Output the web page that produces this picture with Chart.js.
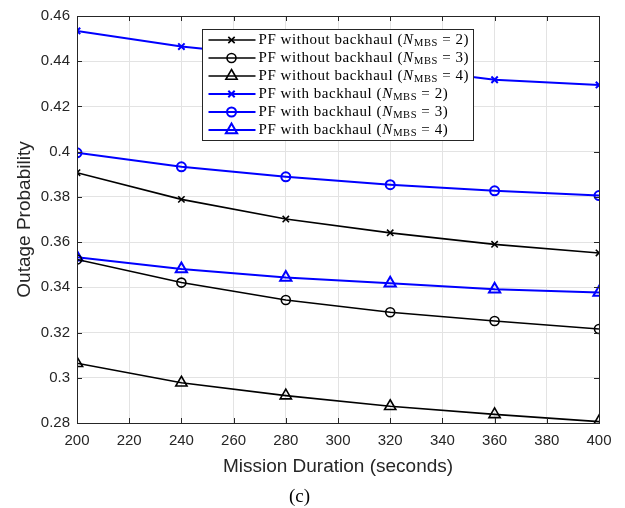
<!DOCTYPE html>
<html>
<head>
<meta charset="utf-8">
<script src="https://cdn.jsdelivr.net/npm/chart.js@4.4.0/dist/chart.umd.min.js"></script>
<style>
  html, body { margin: 0; padding: 0; background: #fff; }
  #wrap { width: 625px; height: 508px; }
</style>
</head>
<body>
<div id="wrap"><canvas id="chart"></canvas></div>
<script>
const durations = [200, 240, 280, 320, 360, 400];

const noBackhaul2 = [0.3907, 0.3789, 0.3702, 0.3641, 0.3590, 0.3552];
const noBackhaul3 = [0.3523, 0.3421, 0.3344, 0.3290, 0.3251, 0.3216];
const noBackhaul4 = [0.3064, 0.2978, 0.2921, 0.2874, 0.2838, 0.2806];
const withBackhaul2 = [0.4534, 0.4465, 0.4418, 0.4376, 0.4318, 0.4295];
const withBackhaul3 = [0.3995, 0.3933, 0.3889, 0.3854, 0.3827, 0.3806];
const withBackhaul4 = [0.3533, 0.3481, 0.3443, 0.3418, 0.3392, 0.3377];

const seriesNames = [
    'PF without backhaul',
    'PF without backhaul',
    'PF without backhaul',
    'PF with backhaul',
    'PF with backhaul',
    'PF with backhaul'
];
const mbsCounts = [2, 3, 4, 2, 3, 4];

const xTickLabels = ['200', '220', '240', '260', '280', '300', '320', '340', '360', '380', '400'];
const yTickLabels = ['0.28', '0.3', '0.32', '0.34', '0.36', '0.38', '0.4', '0.42', '0.44', '0.46'];

const axisColor = '#262626';
const sansFont = "'Liberation Sans', Arial, sans-serif";
const serifFont = "'Liberation Serif', 'Times New Roman', serif";

function makeSet(values, color, style, width) {
    return {
        data: durations.map((d, i) => ({ x: d, y: values[i] })),
        borderColor: color,
        borderWidth: width,
        pointStyle: style,
        pointRadius: style === 'triangle' ? 6.5 : 4.5,
        pointBorderColor: color,
        pointBorderWidth: width,
        pointBackgroundColor: 'rgba(0,0,0,0)',
        tension: 0,
        fill: false
    };
}

const sets = [
    makeSet(noBackhaul2, '#000000', 'crossRot', 1.6),
    makeSet(noBackhaul3, '#000000', 'circle', 1.6),
    makeSet(noBackhaul4, '#000000', 'triangle', 1.6),
    makeSet(withBackhaul2, '#0000ff', 'crossRot', 2),
    makeSet(withBackhaul3, '#0000ff', 'circle', 2),
    makeSet(withBackhaul4, '#0000ff', 'triangle', 2)
];

function drawMarker(ctx, style, x, y, color, width) {
    ctx.save();
    ctx.strokeStyle = color;
    ctx.lineWidth = width;
    ctx.beginPath();
    if (style === 'crossRot') {
        const r = 4.5 * Math.SQRT1_2;
        ctx.moveTo(x - r, y - r); ctx.lineTo(x + r, y + r);
        ctx.moveTo(x + r, y - r); ctx.lineTo(x - r, y + r);
    } else if (style === 'circle') {
        ctx.arc(x, y, 4.5, 0, Math.PI * 2);
    } else {
        const r = 6.5;
        ctx.moveTo(x, y - r);
        ctx.lineTo(x + r * Math.sin(Math.PI / 3), y + r / 2);
        ctx.lineTo(x - r * Math.sin(Math.PI / 3), y + r / 2);
        ctx.closePath();
    }
    ctx.stroke();
    ctx.restore();
}

// box round the plot area and the inward tick marks
const frame = {
    id: 'frame',
    afterDatasetsDraw(chart) {
        const { ctx, chartArea: a, scales } = chart;
        ctx.save();
        ctx.strokeStyle = axisColor;
        ctx.lineWidth = 1;
        ctx.strokeRect(Math.round(a.left) + 0.5, Math.round(a.top) + 0.5,
            Math.round(a.right - a.left), Math.round(a.bottom - a.top));
        ctx.beginPath();
        scales.x.ticks.forEach(t => {
            const px = Math.round(scales.x.getPixelForValue(t.value)) + 0.5;
            ctx.moveTo(px, a.bottom); ctx.lineTo(px, a.bottom - 5);
            ctx.moveTo(px, a.top); ctx.lineTo(px, a.top + 5);
        });
        scales.y.ticks.forEach(t => {
            const py = Math.round(scales.y.getPixelForValue(t.value)) + 0.5;
            ctx.moveTo(a.left, py); ctx.lineTo(a.left + 5, py);
            ctx.moveTo(a.right, py); ctx.lineTo(a.right - 5, py);
        });
        ctx.stroke();
        ctx.restore();
    }
};

// legend with the N_MBS subscript, drawn on top of the lines
const mathLegend = {
    id: 'mathLegend',
    afterDraw(chart) {
        const { ctx, chartArea: a } = chart;
        const bx = Math.round(a.left + 125) + 0.5;
        const by = Math.round(a.top + 13) + 0.5;
        const bw = 271, bh = 111;
        ctx.save();
        ctx.fillStyle = '#ffffff';
        ctx.fillRect(bx, by, bw, bh);
        ctx.strokeStyle = axisColor;
        ctx.lineWidth = 1;
        ctx.strokeRect(bx, by, bw, bh);

        sets.forEach((s, i) => {
            const cy = by + 10.5 + 18 * i;
            ctx.strokeStyle = s.borderColor;
            ctx.lineWidth = s.borderWidth;
            ctx.beginPath();
            ctx.moveTo(bx + 6, cy); ctx.lineTo(bx + 53, cy);
            ctx.stroke();
            drawMarker(ctx, s.pointStyle, bx + 29, cy, s.borderColor, s.borderWidth);

            ctx.fillStyle = '#000';
            ctx.textBaseline = 'middle';
            ctx.textAlign = 'left';
            ctx.letterSpacing = '0.55px';
            let tx = bx + 56;
            ctx.font = '15px ' + serifFont;
            const head = seriesNames[i] + ' (';
            ctx.fillText(head, tx, cy);
            tx += ctx.measureText(head).width;
            ctx.font = 'italic 15px ' + serifFont;
            ctx.fillText('N', tx, cy);
            tx += ctx.measureText('N').width + 0.5;
            ctx.font = '10.5px ' + serifFont;
            ctx.fillText('MBS', tx, cy + 3.5);
            tx += ctx.measureText('MBS').width;
            ctx.font = '15px ' + serifFont;
            ctx.fillText(' = ' + mbsCounts[i] + ')', tx, cy);
        });
        ctx.restore();
    }
};

new Chart(document.getElementById('chart'), {
    type: 'line',
    data: { datasets: sets },
    options: {
        responsive: true,
        maintainAspectRatio: false,
        animation: false,
        layout: { padding: { left: 0, top: 11.5, right: 26, bottom: 0 } },
        plugins: {
            legend: { display: false },
            tooltip: { enabled: false },
            title: {
                display: true,
                text: '(c)',
                position: 'bottom',
                color: '#000',
                font: { family: serifFont, size: 19, weight: 'normal' },
                padding: { top: 0, bottom: 0 }
            }
        },
        scales: {
            x: {
                type: 'linear',
                min: 200,
                max: 400,
                afterFit: scale => { scale.height = 62.2; },
                ticks: {
                    stepSize: 20,
                    padding: 9,
                    color: axisColor,
                    maxRotation: 0,
                    font: { family: sansFont, size: 15 },
                    callback: (v, i) => xTickLabels[i]
                },
                grid: { color: '#e3e3e3', drawTicks: false },
                border: { display: false },
                title: {
                    display: true,
                    text: 'Mission Duration (seconds)',
                    color: axisColor,
                    font: { family: sansFont, size: 19 },
                    padding: { top: 0, bottom: 7 }
                }
            },
            y: {
                min: 0.28,
                max: 0.46,
                afterFit: scale => { scale.width = 77; },
                ticks: {
                    stepSize: 0.02,
                    padding: 7,
                    color: axisColor,
                    font: { family: sansFont, size: 15 },
                    callback: (v, i) => yTickLabels[i]
                },
                grid: { color: '#e3e3e3', drawTicks: false },
                border: { display: false },
                title: {
                    display: true,
                    text: 'Outage Probability',
                    color: axisColor,
                    font: { family: sansFont, size: 19 },
                    padding: { top: 13.5, bottom: 0 }
                }
            }
        }
    },
    plugins: [frame, mathLegend]
});
</script>
</body>
</html>
